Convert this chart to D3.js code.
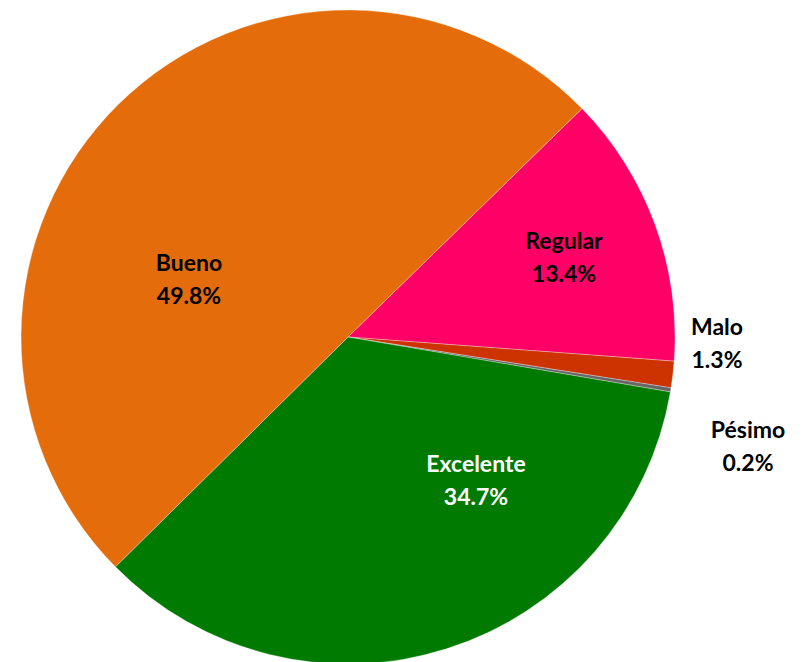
<!DOCTYPE html>
<html>
<head>
<meta charset="utf-8">
<script src="https://cdn.jsdelivr.net/npm/d3@7"></script>
<style>
html,body{margin:0;padding:0;background:#fff;}
svg{display:block;}
</style>
</head>
<body>
<svg id="chart" width="804" height="662"></svg>
<script>
const categories = ["Regular", "Malo", "Pésimo", "Excelente", "Bueno"];
const values = [13.4, 1.3, 0.2, 34.7, 49.8];
const colors = ["#FF0066", "#CC3300", "#666666", "#007A00", "#E46C0A"];
const labelColors = ["#000", "#000", "#000", "#fff", "#000"];
// label offsets relative to pie centre (layout)
const labelOffsets = [[216, -79], [369, 7], [400, 110], [128, 144], [-159, -57]];

const cx = 348, cy = 337, R = 327;
const svg = d3.select("#chart");
const g = svg.append("g").attr("transform", `translate(${cx},${cy})`);

const startDeg = 45.7;
const pie = d3.pie().sort(null).value(d => d.v)
  .startAngle(startDeg * Math.PI / 180)
  .endAngle((startDeg + 360) * Math.PI / 180);
const data = categories.map((c, i) => ({c, v: values[i], i}));
const arcs = pie(data);
const arc = d3.arc().innerRadius(0).outerRadius(R);

g.selectAll("path").data(arcs).join("path")
  .attr("d", arc)
  .attr("fill", d => colors[d.data.i])
  .attr("stroke", "#ffffff")
  .attr("stroke-opacity", 0.5)
  .attr("stroke-width", 0.6);

const lab = g.selectAll("text.lab").data(arcs).join("text")
  .attr("class", "lab")
  .attr("text-anchor", "middle")
  .attr("font-family", "Lato, 'Open Sans', sans-serif")
  .attr("font-weight", "bold")
  .attr("font-size", 23)
  .attr("fill", d => labelColors[d.data.i])
  .attr("transform", d => `translate(${labelOffsets[d.data.i][0]},${labelOffsets[d.data.i][1]})`);
lab.append("tspan").attr("x", 0).attr("y", -9).text(d => d.data.c);
lab.append("tspan").attr("x", 0).attr("y", 24).text(d => d.data.v.toFixed(1) + "%");
</script>
</body>
</html>
